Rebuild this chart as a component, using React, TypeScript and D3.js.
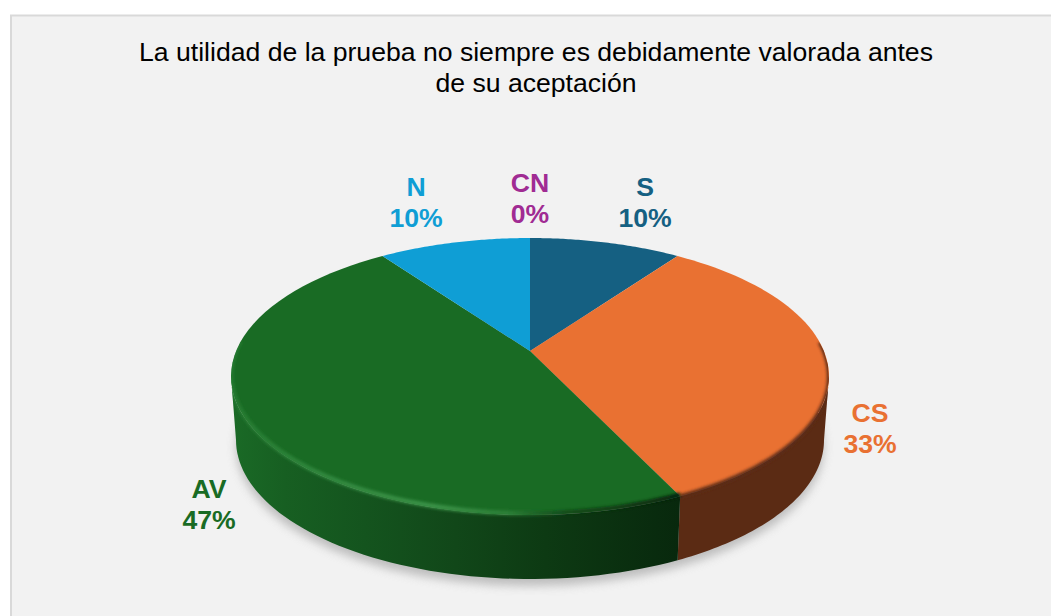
import React from "react";
import * as d3 from "d3";

const categories = ["CN", "S", "CS", "AV", "N"];
const values = [0, 9.8, 33.2, 47.2, 9.8];
const percentLabels = ["0%", "10%", "33%", "47%", "10%"];
const sliceColors = ["#a02b93", "#156082", "#e97132", "#196b24", "#0f9ed5"];
const labelColors = ["#a02b93", "#156082", "#e97132", "#196b24", "#0f9ed5"];
const titleLines = [
  "La utilidad de la prueba no siempre es debidamente valorada antes",
  "de su aceptación",
];

const W = 1051;
const H = 616;
const cx = 530;
// perspective circle: centre, far and near edge of the top face on the vertical axis
const apexY = 351;
const farY = 238;
const nearY = 515;
const rxTop = 299;
const rxBottom = 294;
const ryBottom = 139;
const bottomCy = 440;

const c = (2 * apexY - farY - nearY) / (nearY - farY);
const a = apexY - farY + farY * c;
const rxP = rxTop * Math.sqrt(1 - c * c);
const topCy = (farY + nearY) / 2;
const ryTop = (nearY - farY) / 2;

const topPoint = (t: number): [number, number] => {
  const u = Math.sin(t);
  const v = -Math.cos(t);
  const w = 1 + c * v;
  return [cx + (rxP * u) / w, (apexY + a * v) / w];
};
const bottomPoint = (t: number): [number, number] => {
  const [x, y] = topPoint(t);
  return [
    cx + ((x - cx) * rxBottom) / rxTop,
    bottomCy + ((y - topCy) * ryBottom) / ryTop,
  ];
};

const frontStart = Math.acos(c); // angle where the rim is widest (right)
const frontEnd = 2 * Math.PI - frontStart;

const samples = (t0: number, t1: number) =>
  d3.range(0, 61).map((i) => t0 + ((t1 - t0) * i) / 60);

const lineGen = d3.line<[number, number]>();

const pieGen = d3
  .pie<number>()
  .sort(null)
  .startAngle(0)
  .endAngle(2 * Math.PI);
const arcs = pieGen(values);

const slicePath = (t0: number, t1: number) =>
  lineGen([[cx, apexY], ...samples(t0, t1).map(topPoint)]) + "Z";

const sidePath = (t0: number, t1: number) => {
  const s = Math.max(t0, frontStart);
  const e = Math.min(t1, frontEnd);
  if (e <= s) return null;
  const ts = samples(s, e);
  return (
    lineGen([...ts.map(topPoint), ...ts.slice().reverse().map(bottomPoint)]) + "Z"
  );
};

const frontArc = (t0: number, t1: number) => {
  const s = Math.max(t0, frontStart - 0.25);
  const e = Math.min(t1, frontEnd + 0.25);
  return lineGen(samples(s, e).map(topPoint));
};

const fullTop = lineGen(samples(0, 2 * Math.PI).map(topPoint)) + "Z";
const fullBottom = lineGen(samples(0, 2 * Math.PI).map(bottomPoint)) + "Z";

const labelAnchors: Record<string, [number, number]> = {
  CN: [530, 192],
  S: [645, 196],
  CS: [870, 422],
  AV: [209, 498],
  N: [416, 196],
};
const labelGap = 31;

const greenSideStops: [number, string][] = [
  [0, "#1a6a26"],
  [0.12, "#175f22"],
  [0.3, "#14541e"],
  [0.5, "#114719"],
  [0.7, "#0d3a13"],
  [1, "#08280d"],
];
const greenRimStops: [number, string, number][] = [
  [0, "#2a8236", 0.7],
  [0.2, "#338a40", 0.95],
  [0.45, "#3c9449", 1],
  [0.62, "#2f8239", 0.9],
  [0.75, "#0d3a14", 0.7],
  [1, "#06200a", 1],
];

export default function App() {
  return (
    <svg
      width={W}
      height={H}
      viewBox={`0 0 ${W} ${H}`}
      style={{ position: "fixed", left: 0, top: 0, display: "block" }}
      fontFamily="'Liberation Sans', Arial, sans-serif"
    >
      <defs>
        <filter id="shadowBlur" x="-10%" y="-10%" width="120%" height="130%">
          <feGaussianBlur stdDeviation="5" />
        </filter>
        <filter id="rimBlur" x="-10%" y="-10%" width="120%" height="120%">
          <feGaussianBlur stdDeviation="1.6" />
        </filter>
        <linearGradient
          id="greenSide"
          gradientUnits="userSpaceOnUse"
          x1={cx - rxTop}
          x2={680}
          y1={0}
          y2={0}
        >
          {greenSideStops.map(([o, col]) => (
            <stop key={o} offset={o} stopColor={col} />
          ))}
        </linearGradient>
        <linearGradient
          id="greenRim"
          gradientUnits="userSpaceOnUse"
          x1={cx - rxTop}
          x2={680}
          y1={0}
          y2={0}
        >
          {greenRimStops.map(([o, col, op]) => (
            <stop key={o} offset={o} stopColor={col} stopOpacity={op} />
          ))}
        </linearGradient>
        <clipPath id="bodyClip">
          <path d={fullTop} />
          <path d={fullBottom} />
          {arcs.map((d, i) => {
            const p = sidePath(d.startAngle, d.endAngle);
            return p ? <path key={i} d={p} /> : null;
          })}
        </clipPath>
      </defs>

      <rect width={W} height={H} fill="#ffffff" />
      <rect x={11} y={15.5} width={W + 20} height={H + 20} fill="#f2f2f2" stroke="#d9d9d9" strokeWidth={2} />

      {titleLines.map((t, i) => (
        <text key={i} x={536} y={61 + i * 31} textAnchor="middle" fontSize={26.6} fill="#000000">
          {t}
        </text>
      ))}

      {/* drop shadow */}
      <path
        d={fullBottom}
        transform="translate(0,7)"
        fill="#9a9a9a"
        opacity={0.6}
        filter="url(#shadowBlur)"
      />

      {/* side walls */}
      {arcs.map((d, i) => {
        const p = sidePath(d.startAngle, d.endAngle);
        if (!p) return null;
        const fill = categories[i] === "AV" ? "url(#greenSide)" : "#5b2b14";
        return <path key={categories[i]} d={p} fill={fill} />;
      })}

      {/* top face */}
      {arcs.map((d, i) =>
        d.endAngle > d.startAngle ? (
          <path
            key={categories[i]}
            d={slicePath(d.startAngle, d.endAngle)}
            fill={sliceColors[i]}
          />
        ) : null
      )}

      {/* bevel along the near rim */}
      <g clipPath="url(#bodyClip)">
        {arcs.map((d, i) => {
          if (categories[i] === "AV") {
            return (
              <path
                key={categories[i]}
                d={frontArc(d.startAngle, d.endAngle) ?? ""}
                transform="translate(0,-1.5)"
                fill="none"
                stroke="url(#greenRim)"
                strokeWidth={4.5}
                filter="url(#rimBlur)"
              />
            );
          }
          if (categories[i] === "CS") {
            return (
              <path
                key={categories[i]}
                d={frontArc(d.startAngle, d.endAngle) ?? ""}
                fill="none"
                stroke="#5b2b14"
                strokeWidth={4}
                filter="url(#rimBlur)"
              />
            );
          }
          return null;
        })}
      </g>

      {/* labels */}
      {categories.map((name, i) => {
        const [x, y] = labelAnchors[name];
        return (
          <g key={name} textAnchor="middle" fontSize={26.6} fontWeight="bold" fill={labelColors[i]}>
            <text x={x} y={y}>{name}</text>
            <text x={x} y={y + labelGap}>{percentLabels[i]}</text>
          </g>
        );
      })}
    </svg>
  );
}
